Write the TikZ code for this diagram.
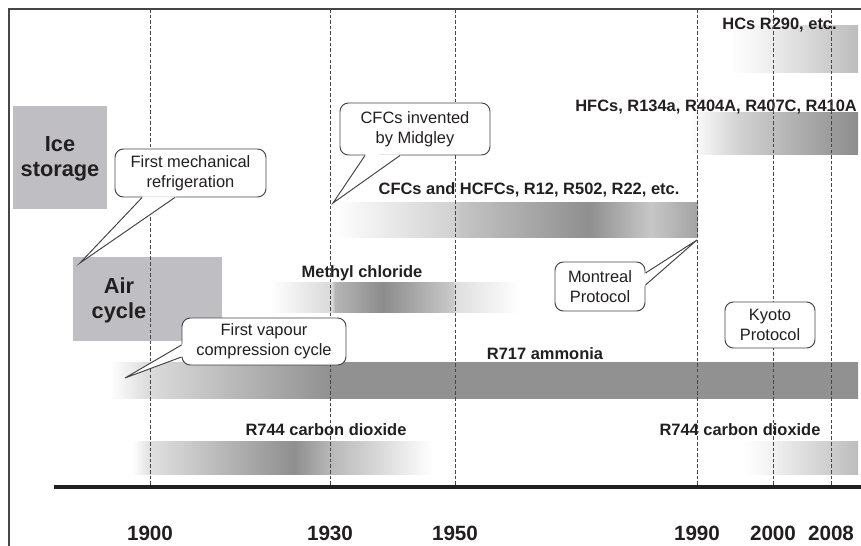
\documentclass[tikz,border=0pt]{standalone}
\usepackage{fontspec}
\setmainfont{Liberation Sans}
\usetikzlibrary{calc}

\definecolor{inkgrey}{RGB}{35,31,32}
\definecolor{rulegrey}{RGB}{70,70,70}
\definecolor{boxgrey}{RGB}{191,191,195}

% bar shadings (the bar itself spans 25bp to 75bp)
\pgfdeclarehorizontalshading{hcshade}{100bp}{color(0bp)=(white); color(25bp)=(white); color(35bp)=(black!4); color(75bp)=(black!26); color(100bp)=(black!26)}
\pgfdeclarehorizontalshading{hfcshade}{100bp}{color(0bp)=(white); color(25bp)=(white); color(40bp)=(black!18); color(55bp)=(black!30); color(75bp)=(black!45); color(100bp)=(black!45)}
\pgfdeclarehorizontalshading{cfcshade}{100bp}{color(0bp)=(white); color(25bp)=(white); color(41.5bp)=(black!18); color(42.5bp)=(black!23); color(60bp)=(black!44); color(68.5bp)=(black!22); color(75bp)=(black!36); color(100bp)=(black!36)}
\pgfdeclarehorizontalshading{mclshade}{100bp}{color(0bp)=(white); color(25bp)=(white); color(37.4bp)=(black!15); color(38bp)=(black!29); color(47.6bp)=(black!45); color(61.6bp)=(black!21); color(62bp)=(black!13); color(75bp)=(white); color(100bp)=(white)}
\pgfdeclarehorizontalshading{nhshade}{100bp}{color(0bp)=(white); color(25bp)=(white); color(27.6bp)=(black!14); color(33bp)=(black!27); color(39.7bp)=(black!43); color(75bp)=(black!43); color(100bp)=(black!43)}
\pgfdeclarehorizontalshading{coshade}{100bp}{color(0bp)=(white); color(25bp)=(white); color(28bp)=(black!12); color(52bp)=(black!44); color(58bp)=(black!28); color(75bp)=(white); color(100bp)=(white)}

% white wedge from the box edge out to the tip
\newcommand{\calltail}[3]{%
  \fill[white] ($(#1)!-1.2pt!(#3)$) -- (#3) -- ($(#2)!-1.2pt!(#3)$) -- cycle;
  \draw[rulegrey, line width=0.7pt] (#1) -- (#3) -- (#2);
}

\begin{document}
\begin{tikzpicture}[
  lbl/.style={text=inkgrey, inner sep=0pt, font=\bfseries\fontsize{11.7}{14}\selectfont},
  era/.style={text=inkgrey, align=center, inner sep=0pt, font=\bfseries\fontsize{15.5}{17.7}\selectfont},
  year/.style={text=inkgrey, inner sep=0pt, font=\bfseries\fontsize{14.7}{16}\selectfont},
  callbox/.style={draw=rulegrey, fill=white, rounded corners=6pt, line width=0.7pt, align=center,
    text=inkgrey, inner sep=2pt, font=\fontsize{11.7}{14}\selectfont},
  yearline/.style={rulegrey, line width=0.6pt, dash pattern=on 2.5pt off 1.5pt}
]
  \useasboundingbox (0,0) rectangle (21.525,13.65);

  % frame
  \draw[rulegrey, line width=0.9pt] (0.225,0) -- (0.225,13.425) -- (21.525,13.425);

  % refrigerants
  \shade[shading=hcshade]  (18.25,13.0)   rectangle (21.45,11.825);
  \shade[shading=hfcshade] (17.25,10.825) rectangle (21.45,9.775);
  \shade[shading=cfcshade] (8.325,8.575)  rectangle (17.45,7.7);
  \shade[shading=mclshade] (6.75,6.575)   rectangle (13.0,5.825);
  \shade[shading=nhshade]  (2.75,4.575)   rectangle (21.45,3.675);
  \shade[shading=coshade]  (3.3,2.6)      rectangle (10.825,1.775);
  \shade[shading=hcshade]  (18.575,2.6)   rectangle (21.45,1.775);

  \node[lbl] (hclbl) at (19.49,13.03) {HCs R290, etc.};
  \node[lbl, anchor=east] (hfclbl) at (21.43,10.97) {HFCs, R134a, R404A, R407C, R410A};
  \node[lbl] (cfclbl) at (13.225,8.9) {CFCs and HCFCs, R12, R502, R22, etc.};
  \node[lbl] (mcllbl) at (9.05,6.825) {Methyl chloride};
  \node[lbl] (nhlbl) at (13.625,4.8) {R717 ammonia};
  \node[lbl] (colbl) at (8.15,2.9) {R744 carbon dioxide};
  \node[lbl] (colbl2) at (18.5,2.9) {R744 carbon dioxide};

  % early methods
  \fill[boxgrey] (0.325,11.0) rectangle (2.675,8.425);
  \node[era] (ice) at (1.5,9.68) {Ice\\storage};
  \fill[boxgrey] (1.825,7.225) rectangle (5.55,5.125);
  \node[era] (air) at (2.975,6.15) {Air\\cycle};

  % years
  \foreach \x/\yr in {3.75/1900, 8.25/1930, 11.375/1950, 17.425/1990, 19.325/2000, 20.775/2008} {
    \draw[yearline] (\x,13.425) -- (\x,1.475);
    \node[year] (y\yr) at (\x,0.31) {\yr};
  }
  \draw[inkgrey, line width=2.6pt] (1.35,1.475) -- (21.525,1.475);

  % callouts
  \node[callbox, minimum width=3.775cm, minimum height=1.2cm] (mech) at (4.7625,9.325) {First mechanical\\refrigeration};
  \coordinate (mechA) at ([xshift=-1.21cm]mech.south);
  \coordinate (mechB) at ([xshift=-0.39cm]mech.south);
  \coordinate (mechtip) at (2.0,7.075);
  \calltail{mechA}{mechB}{mechtip}

  \node[callbox, minimum width=3.75cm, minimum height=1.3cm] (midg) at (10.375,10.425) {CFCs invented\\by Midgley};
  \coordinate (midgA) at ([xshift=-1.25cm]midg.south);
  \coordinate (midgB) at ([xshift=-0.375cm]midg.south);
  \coordinate (midgtip) at (8.325,8.575);
  \calltail{midgA}{midgB}{midgtip}

  \node[callbox, minimum width=2.25cm, minimum height=1.225cm] (mont) at (15.0,6.4875) {Montreal\\Protocol};
  \coordinate (montA) at ([yshift=0.3375cm]mont.east);
  \coordinate (montB) at ([yshift=0.0375cm]mont.east);
  \coordinate (monttip) at (17.425,7.65);
  \calltail{montA}{montB}{monttip}

  \node[callbox, minimum width=4.1cm, minimum height=1.175cm] (vap) at (6.6,5.1125) {First vapour\\compression cycle};
  \coordinate (vapA) at ([yshift=-0.0875cm]vap.west);
  \coordinate (vapB) at ([yshift=-0.3875cm]vap.west);
  \coordinate (vaptip) at (3.125,4.2);
  \calltail{vapA}{vapB}{vaptip}

  \node[callbox, minimum width=2.25cm, minimum height=1.15cm] (kyoto) at (19.25,5.525) {Kyoto\\Protocol};
\end{tikzpicture}
\end{document}
